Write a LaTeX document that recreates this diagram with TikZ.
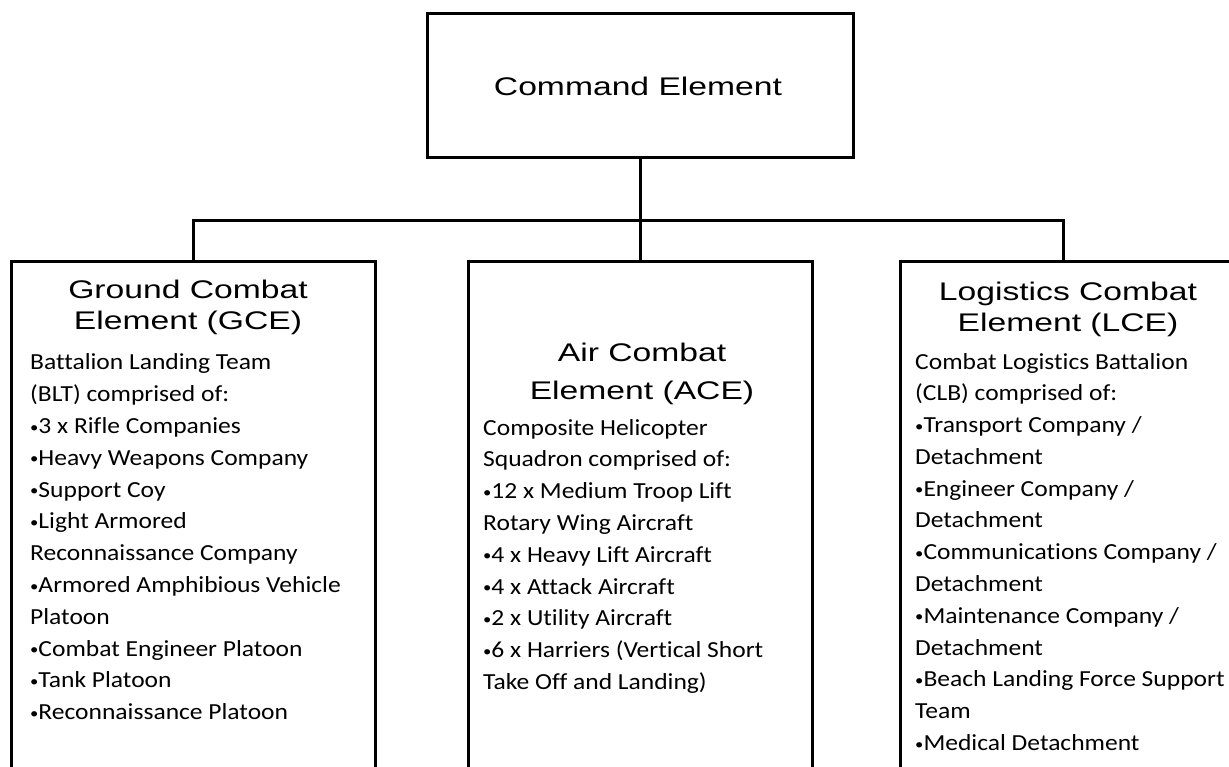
\documentclass[tikz,border=0pt]{standalone}
\usepackage{fontspec}
\newfontfamily\headfont[FakeStretch=1.32]{Liberation Sans}
\newfontfamily\bodyfont[FakeStretch=1.11,Ligatures=NoCommon]{Carlito}
\newcommand{\headlines}[2]{\parbox[t]{340pt}{\centering\headfont\fontsize{25.5}{#1}\selectfont #2}}
\newcommand{\bodylines}[1]{\parbox[t]{600pt}{\raggedright\bodyfont\fontsize{23}{31.8}\selectfont #1}}
\newcommand{\bul}{\raisebox{1.5pt}{\fontsize{15}{15}\selectfont •}}
\begin{document}
\begin{tikzpicture}[x=1pt,y=-1pt,
  box/.style={draw, line width=3pt, inner sep=0pt, outer sep=0pt, anchor=north west},
  conn/.style={draw, line width=3pt},
  headtxt/.style={anchor=base, inner sep=0pt},
  bodytxt/.style={anchor=base west, inner sep=0pt}]
\useasboundingbox (0,0) rectangle (1229,767);
\fill[white] (0,0) rectangle (1229,767);
\clip (0,0) rectangle (1229,767);
% boxes
\node[box, minimum width=426pt, minimum height=144pt] (cmd) at (427,14) {};
\node[box, minimum width=364pt, minimum height=560pt] (gce) at (11,262) {};
\node[box, minimum width=344pt, minimum height=560pt] (ace) at (468,262) {};
\node[box, minimum width=340pt, minimum height=560pt] (lce) at (900,262) {};
% connectors
\coordinate (bar) at (640,221);
\coordinate (lcestem) at ([xshift=163pt]lce.north west);
\draw[conn] (cmd.south) -- (ace.north);
\draw[conn] (gce.north) |- (bar) -| (lcestem);
% texts
\node[headtxt] (cmdtxt) at (638,96) {\headlines{31}{Command Element}};
\node[headtxt] (gcehead) at (188,299) {\headlines{31}{Ground Combat\\Element (GCE)}};
\node[headtxt] (acehead) at (642,361) {\headlines{38}{Air Combat\\Element (ACE)}};
\node[headtxt] (lcehead) at (1068,301) {\headlines{31}{Logistics Combat\\Element (LCE)}};
\node[bodytxt] (gcebody) at (30,370) {\bodylines{Battalion Landing Team\\(BLT) comprised of:\\\bul3 x Rifle Companies\\\bul Heavy Weapons Company\\\bul Support Coy\\\bul Light Armored\\Reconnaissance Company\\\bul Armored Amphibious Vehicle\\Platoon\\\bul Combat Engineer Platoon\\\bul Tank Platoon\\\bul Reconnaissance Platoon}};
\node[bodytxt] (acebody) at (483,435) {\bodylines{Composite Helicopter\\Squadron comprised of:\\\bul12 x Medium Troop Lift\\Rotary Wing Aircraft\\\bul4 x Heavy Lift Aircraft\\\bul4 x Attack Aircraft\\\bul2 x Utility Aircraft\\\bul6 x Harriers (Vertical Short\\Take Off and Landing)}};
\node[bodytxt] (lcebody) at (915,369) {\bodylines{Combat Logistics Battalion\\(CLB) comprised of:\\\bul Transport Company /\\Detachment\\\bul Engineer Company /\\Detachment\\\bul Communications Company /\\Detachment\\\bul Maintenance Company /\\Detachment\\\bul Beach Landing Force Support\\Team\\\bul Medical Detachment}};
\end{tikzpicture}
\end{document}
